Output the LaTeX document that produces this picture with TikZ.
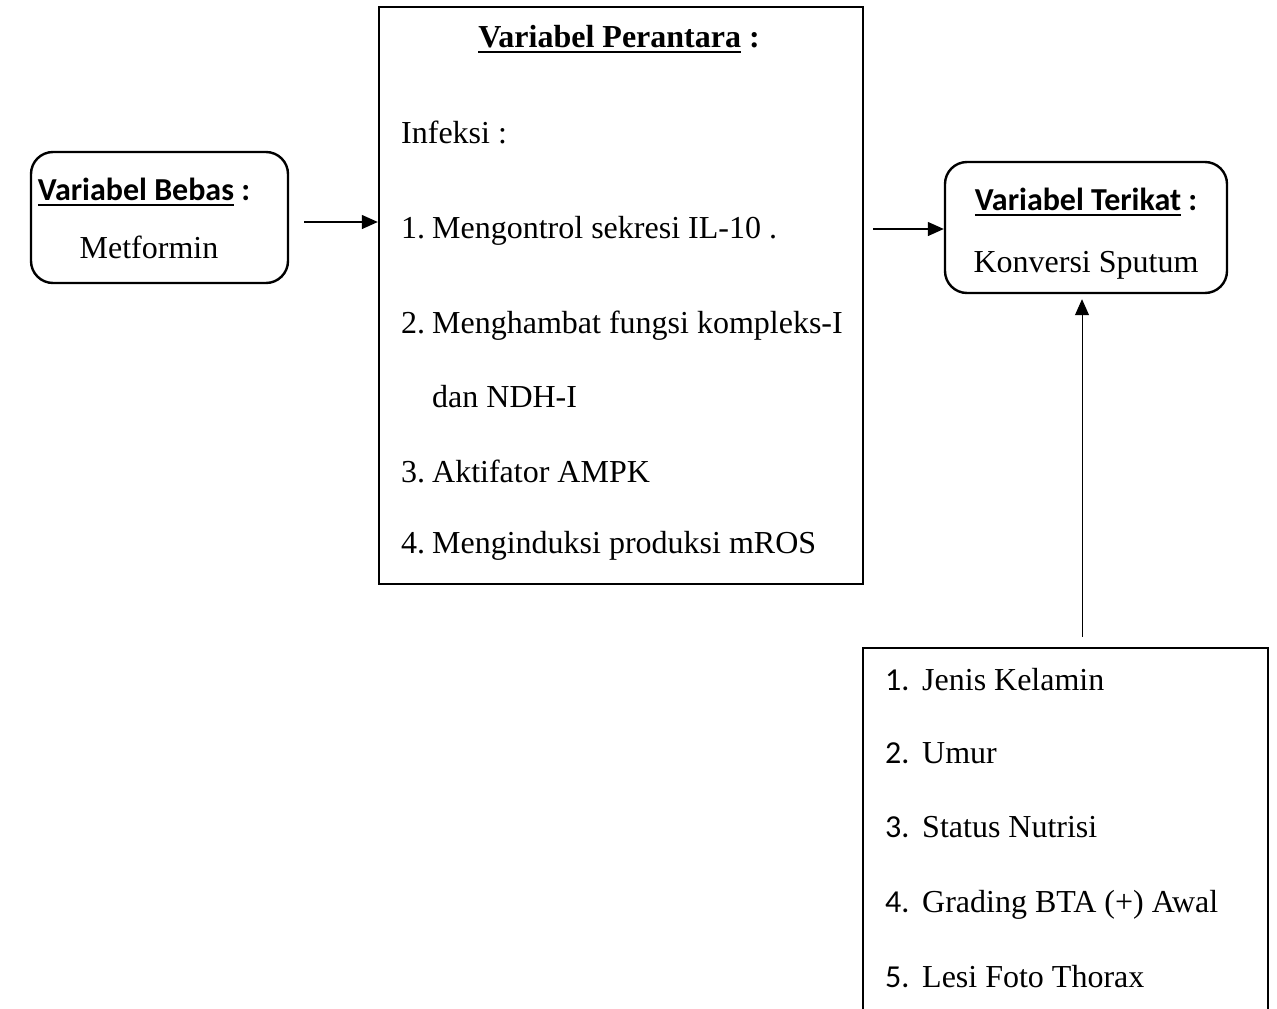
\documentclass[tikz,border=0pt]{standalone}
\usepackage{fontspec}
\setmainfont{Liberation Serif}
\newfontfamily\carlito{Carlito}
\usetikzlibrary{arrows.meta}
\newcommand\ulx[1]{\setbox0\hbox{#1}\rlap{\rule[-0.2em]{\wd0}{0.09em}}\box0\relax}
\newcommand\numx[1]{\makebox[31pt][l]{#1}}
\newcommand\numc[1]{\makebox[37pt][l]{\carlito #1}}
\begin{document}
\begin{tikzpicture}[x=1pt,y=-1pt,
  box/.style={draw, line width=2.4pt, inner sep=0pt},
  rbox/.style={box, rounded corners=22pt},
  arr/.style={line width=1.3pt, -{Triangle[length=16pt,width=14pt]}},
  txt/.style={anchor=base west, inner sep=0pt, font=\fontsize{32}{38}\selectfont},
  ctxt/.style={anchor=base, inner sep=0pt, font=\fontsize{32}{38}\selectfont}]
\useasboundingbox (0,0) rectangle (1277,1009);
\fill[white] (0,0) rectangle (1277,1009);
% boxes
\node[rbox, minimum width=257pt, minimum height=131pt] (bebas) at (159.5,217.5) {};
\node[box, minimum width=484pt, minimum height=577pt] (perantara) at (621,295.5) {};
\node[rbox, minimum width=282pt, minimum height=131pt] (terikat) at (1086,227.5) {};
\node[inner sep=0pt, minimum width=405pt, minimum height=362pt] (luar) at (1065.5,829) {};
\draw[line width=2.4pt] (luar.south west) -- (luar.north west) -- (luar.north east) -- (luar.south east);
% texts left
\node[ctxt] (hbebas) at (144,200) {\carlito\bfseries\ulx{Variabel Bebas} :};
\node[ctxt] (tbebas) at (149,258) {Metformin};
% texts middle
\node[ctxt] (hper) at (619,47) {\bfseries\ulx{Variabel Perantara} :};
\node[txt] (inf) at (401,143) {Infeksi :};
\node[txt] (p1) at (401,238) {\numx{1.}Mengontrol sekresi IL-10 .};
\node[txt] (p2) at (401,333) {\numx{2.}Menghambat fungsi kompleks-I};
\node[txt] (p2b) at (432,407) {dan NDH-I};
\node[txt] (p3) at (401,482) {\numx{3.}Aktifator AMPK};
\node[txt] (p4) at (401,553) {\numx{4.}Menginduksi produksi mROS};
% texts right
\node[ctxt] (hter) at (1086,210) {\carlito\bfseries\ulx{Variabel Terikat} :};
\node[ctxt] (tter) at (1086,272) {Konversi Sputum};
% bottom list
\node[txt] (l1) at (885,690) {\numc{1.}Jenis Kelamin};
\node[txt] (l2) at (885,763) {\numc{2.}Umur};
\node[txt] (l3) at (885,837) {\numc{3.}Status Nutrisi};
\node[txt] (l4) at (885,912) {\numc{4.}Grading BTA (+) Awal};
\node[txt] (l5) at (885,987) {\numc{5.}Lesi Foto Thorax};
% arrows
\draw[arr, shorten <=15pt] (bebas.east |- 0,222) -- (perantara.west |- 0,222);
\draw[arr, shorten <=9pt] (perantara.east |- 0,229) -- (terikat.west |- 0,229);
\draw[arr, line width=1pt, shorten <=11pt, shorten >=5pt] (luar.north -| 1082,0) -- (terikat.south -| 1082,0);
\end{tikzpicture}
\end{document}
